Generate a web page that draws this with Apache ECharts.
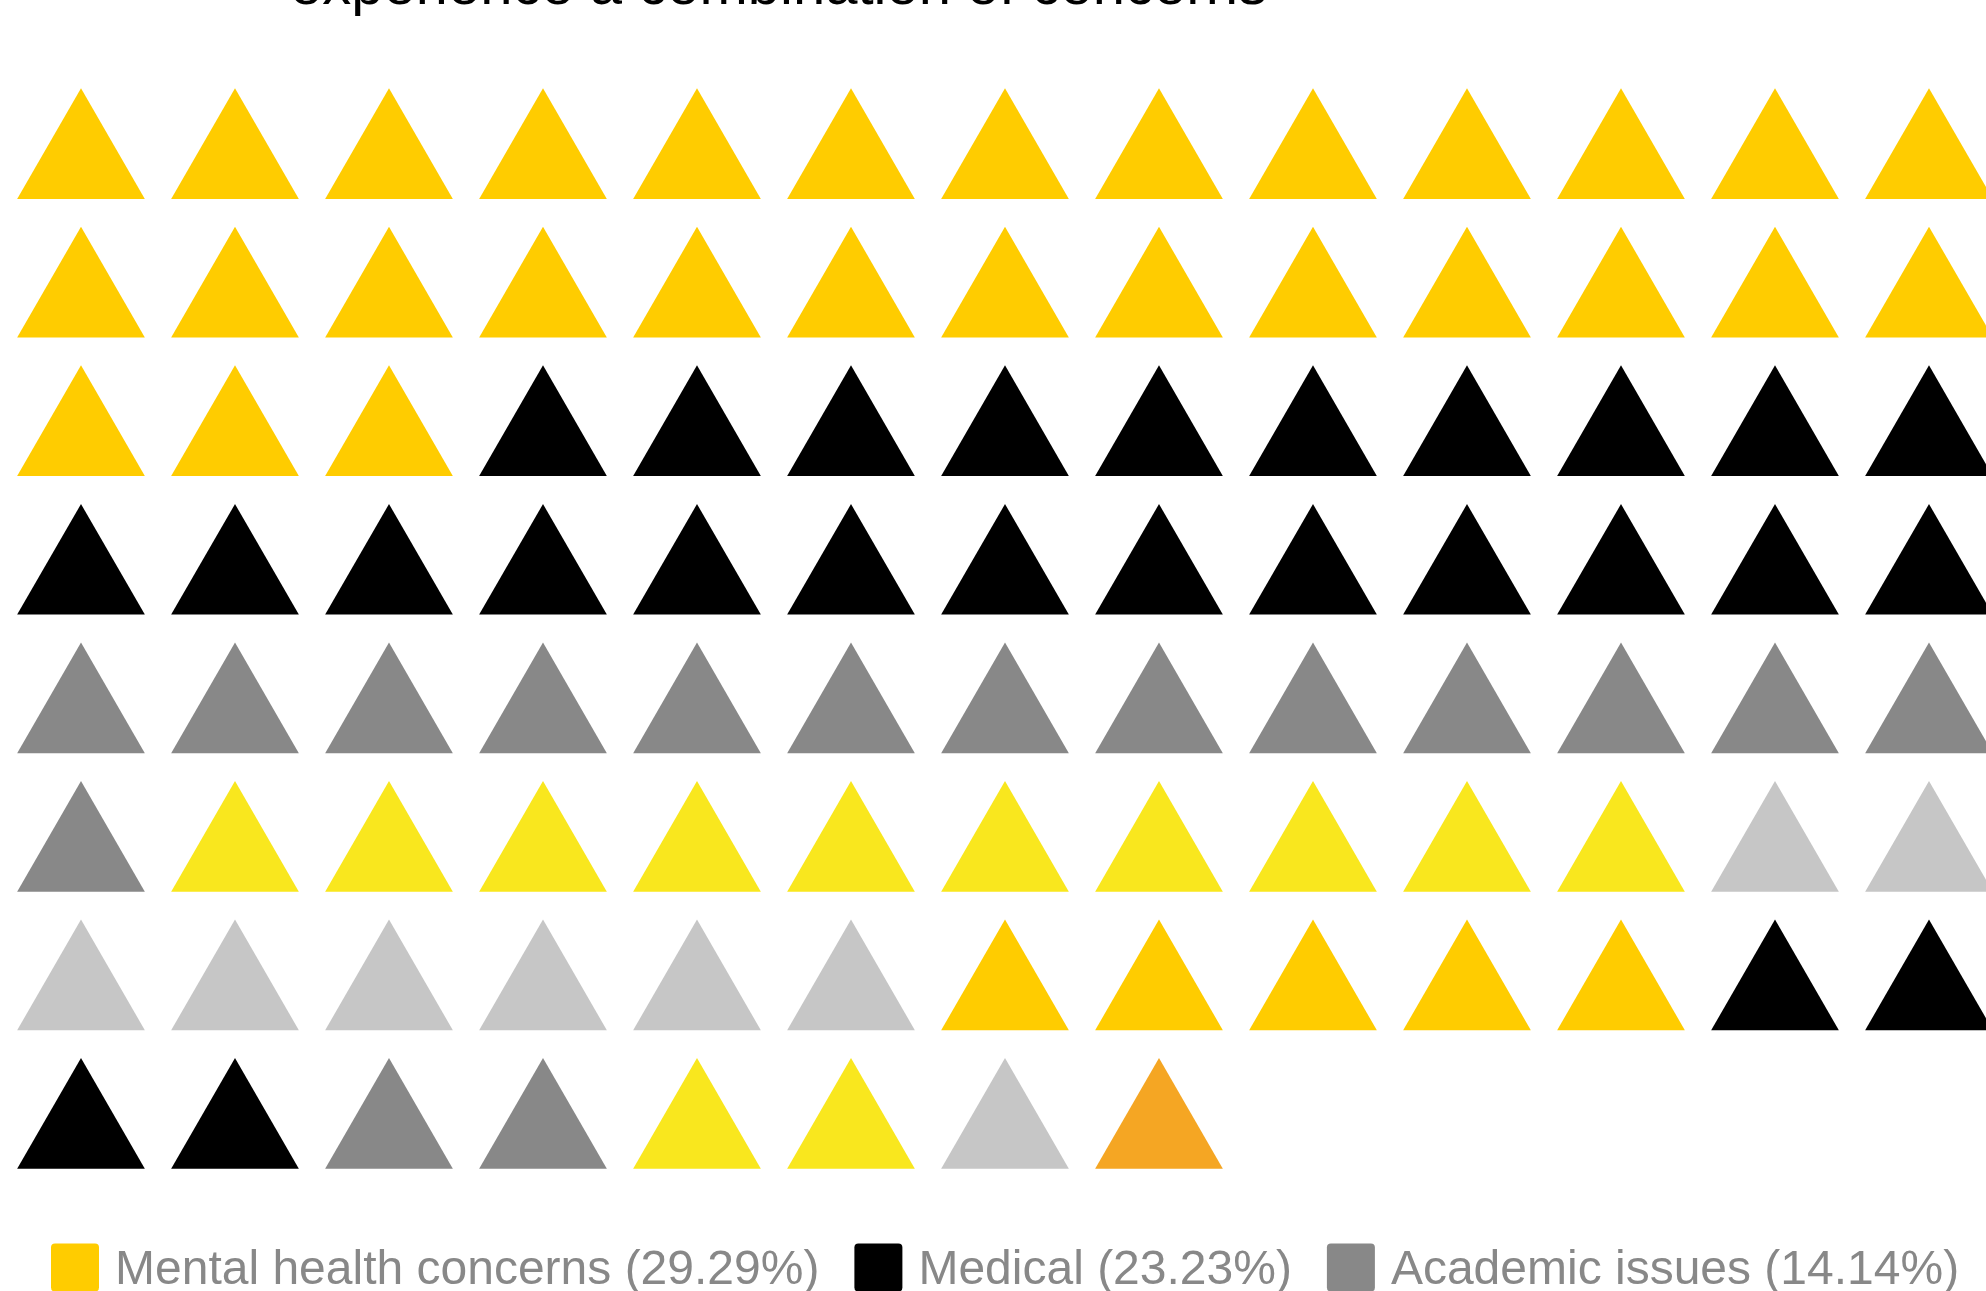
<!DOCTYPE html>
<html>
<head>
<meta charset="utf-8">
<style>html,body{margin:0;padding:0;background:#fff;overflow:hidden}#chart{width:1986px;height:1291px}</style>
<script src="https://cdn.jsdelivr.net/npm/echarts@6/dist/echarts.min.js"></script>
</head>
<body>
<div id="chart"></div>
<script>
// One triangle per student, filled left to right and top to bottom.
const titleText = 'experience a combination of concerns';
const groupNames = [
  'Mental health concerns (29.29%)',
  'Medical (23.23%)',
  'Academic issues (14.14%)',
  'Group 4',
  'Group 5',
  'Group 6',
  'Group 7',
  'Group 8',
  'Group 9',
  'Group 10',
  'Group 11'
];
const groupCounts = [29, 23, 14, 10, 8, 5, 4, 2, 2, 1, 1];
const groupColors = ['#FFCC00', '#000000', '#888888', '#F9E71E', '#C6C6C6', '#FFCC00', '#000000', '#888888', '#F9E71E', '#C6C6C6', '#F5A623'];
const legendNames = groupNames.slice(0, 3);
const columnsPerRow = 13;
const rowCount = 8;

let cursor = 0;
const series = groupNames.map((name, g) => {
  const data = [];
  for (let i = 0; i < groupCounts[g]; i++, cursor++) {
    data.push([cursor % columnsPerRow, Math.floor(cursor / columnsPerRow)]);
  }
  return {
    name,
    type: 'scatter',
    data,
    symbol: 'triangle',
    symbolSize: [127.7, 110.7],
    clip: false,
    silent: true,
    animation: false,
    itemStyle: { color: groupColors[g], opacity: 1 }
  };
});

const chart = echarts.init(document.getElementById('chart'), null, { renderer: 'canvas' });
chart.setOption({
  backgroundColor: '#ffffff',
  animation: false,
  color: groupColors,
  title: {
    text: titleText,
    left: 290,
    top: -41.5,
    padding: 0,
    textStyle: { fontFamily: 'Liberation Sans', fontSize: 58, fontWeight: 'normal', color: '#000000' }
  },
  legend: {
    data: legendNames,
    left: 51,
    top: 1243.5,
    padding: 0,
    itemWidth: 48,
    itemHeight: 48,
    itemGap: 35,
    icon: 'path://M4,0H44A4,4,0,0,1,48,4V44A4,4,0,0,1,44,48H4A4,4,0,0,1,0,44V4A4,4,0,0,1,4,0Z',
    selectedMode: false,
    formatter: '{t|{name}}',
    textStyle: {
      fontFamily: 'Liberation Sans',
      fontSize: 48,
      color: '#888888',
      rich: {
        t: { fontFamily: 'Liberation Sans', fontSize: 48, color: '#888888', padding: [6, 0, 0, 11] }
      }
    }
  },
  grid: { left: 81, top: 143.6, width: 1848, height: 969.85, containLabel: false },
  xAxis: { type: 'value', min: 0, max: columnsPerRow - 1, show: false },
  yAxis: { type: 'value', min: 0, max: rowCount - 1, inverse: true, show: false },
  series
});
</script>
</body>
</html>
